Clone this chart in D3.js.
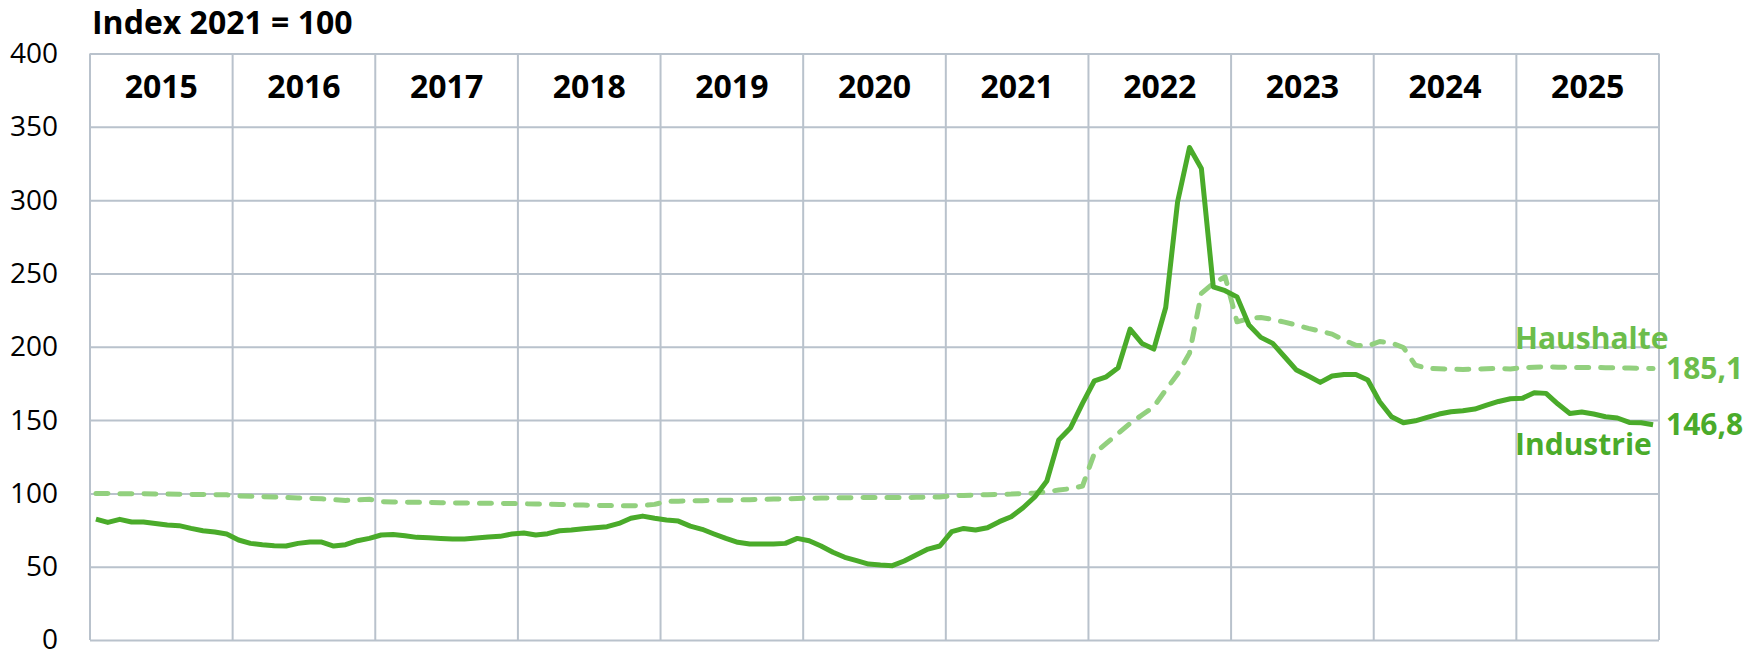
<!DOCTYPE html>
<html>
<head>
<meta charset="utf-8">
<script src="https://cdn.jsdelivr.net/npm/d3@7"></script>
<style>
  body { margin: 0; background: #fff; }
  svg { display: block; font-family: "Open Sans", sans-serif; }
</style>
</head>
<body>
<svg id="chart" width="1758" height="650"></svg>
<script>
// years shown in the header row
var years = [2015, 2016, 2017, 2018, 2019, 2020, 2021, 2022, 2023, 2024, 2025];

var yTicks = [0, 50, 100, 150, 200, 250, 300, 350, 400];

// monthly index values, Jan 2015 .. Dec 2025 (2021 = 100)
var industrie = [
    82.5, 80.2, 82.3, 80.5, 80.5, 79.5, 78.4, 78.0, 76.1, 74.5, 73.6, 72.3,
    68.2, 65.9, 65.0, 64.3, 64.1, 65.9, 66.8, 66.8, 64.1, 65.0, 67.7, 69.3,
    71.6, 72.0, 71.1, 70.0, 69.8, 69.3, 68.9, 68.9, 69.5, 70.2, 70.7, 72.3,
    73.0, 71.6, 72.5, 74.5, 75.0, 75.9, 76.6, 77.3, 79.5, 83.0, 84.5, 83.0,
    81.8, 81.1, 77.7, 75.5, 72.3, 69.3, 66.6, 65.5, 65.5, 65.5, 65.9, 69.3,
    67.7, 64.1, 59.8, 56.4, 54.1, 51.8, 51.1, 50.7, 53.9, 58.0, 62.0, 64.1,
    73.9, 76.1, 75.0, 76.6, 80.7, 84.1, 90.2, 97.7, 108.4, 136.4, 144.8, 161.4,
    176.8, 179.5, 185.7, 212.0, 202.3, 198.4, 226.8, 298.9, 335.9, 321.6, 240.9, 238.2,
    234.0, 214.8, 206.4, 202.3, 193.2, 184.1, 180.0, 175.7, 180.0, 181.1, 181.1, 177.3,
    162.5, 152.3, 148.2, 149.5, 151.8, 154.1, 155.7, 156.4, 157.5, 160.2, 162.7, 164.5,
    164.8, 168.6, 168.2, 160.9, 154.5, 155.5, 154.1, 152.3, 151.4, 148.4, 148.2, 146.8
];

var haushalte = [
    100.0, 100.0, 99.8, 99.8, 99.7, 99.6, 99.5, 99.4, 99.3, 99.2, 99.1, 99.0,
    98.2, 98.0, 97.8, 97.5, 97.2, 96.9, 96.6, 96.3, 95.7, 95.2, 95.5, 96.0,
    94.3, 94.1, 94.0, 93.9, 93.8, 93.6, 93.5, 93.4, 93.3, 93.3, 93.2, 93.1,
    92.9, 92.7, 92.6, 92.4, 92.2, 92.0, 91.8, 91.7, 91.6, 91.6, 91.7, 92.5,
    94.5, 94.7, 94.9, 95.0, 95.2, 95.3, 95.5, 95.7, 95.9, 96.1, 96.3, 96.5,
    96.7, 96.8, 96.9, 97.0, 97.1, 97.2, 97.2, 97.2, 97.2, 97.3, 97.4, 97.6,
    98.4, 98.6, 98.9, 99.1, 99.3, 99.5, 100.0, 100.2, 101.1, 102.3, 103.2, 105.0,
    127.3, 134.1, 140.9, 147.7, 153.4, 159.1, 170.5, 181.4, 195.5, 236.4, 243.2, 247.7,
    217.0, 219.3, 220.0, 218.6, 216.8, 214.8, 212.5, 210.7, 208.6, 204.5, 201.0, 200.5,
    203.6, 202.5, 199.5, 187.5, 185.2, 185.0, 184.8, 184.5, 184.8, 185.0, 185.2, 184.8,
    185.7, 186.1, 186.4, 186.1, 185.9, 185.9, 185.9, 185.7, 185.7, 185.5, 185.3, 185.1
];

var titleText = 'Index 2021 = 100';
var seriesLabels = ['Haushalte', 'Industrie'];
var endLabels = ['185,1', '146,8'];

var green = '#4aab2a';
var lightGreen = '#92d07e';
var labelLightGreen = '#6cbd4b';
var gridColor = '#b9c2cc';

// note: "top" is a reserved window property, so the plot edges get own names
var plotLeft = 90, plotRight = 1659, plotTop = 53.5, plotBottom = 640;

var svg = d3.select('#chart');

var x = d3.scaleLinear().domain([0, years.length * 12]).range([plotLeft, plotRight]);
var xYear = d3.scaleBand().domain(years).range([plotLeft, plotRight]);
var y = d3.scaleLinear().domain([0, 400]).range([plotBottom, plotTop]);

// horizontal grid + y labels through axis
var yAxis = svg.append('g')
    .attr('transform', 'translate(' + plotLeft + ',0)')
    .call(d3.axisLeft(y).tickValues(yTicks).tickSize(-(plotRight - plotLeft)).tickPadding(32));
yAxis.select('.domain').remove();
yAxis.selectAll('line').attr('stroke', gridColor).attr('stroke-width', 2);
yAxis.selectAll('text')
    .attr('fill', '#000')
    .style('font-size', '28px')
    .style('font-family', '"Open Sans", sans-serif');

// vertical year lines
svg.append('g').selectAll('line')
    .data(d3.range(years.length + 1))
    .enter().append('line')
    .attr('x1', function(d) { return x(d * 12); })
    .attr('x2', function(d) { return x(d * 12); })
    .attr('y1', plotTop)
    .attr('y2', plotBottom)
    .attr('stroke', gridColor)
    .attr('stroke-width', 2);

// year header labels
svg.append('g').selectAll('text')
    .data(years)
    .enter().append('text')
    .attr('x', function(d) { return xYear(d) + xYear.bandwidth() / 2; })
    .attr('y', 98)
    .attr('text-anchor', 'middle')
    .style('font-size', '32px')
    .style('font-weight', 'bold')
    .text(function(d) { return d; });

svg.append('text')
    .attr('x', 92)
    .attr('y', 34)
    .style('font-size', '32px')
    .style('font-weight', 'bold')
    .text(titleText);

var line = d3.line()
    .x(function(d, i) { return x(i + 0.5); })
    .y(function(d) { return y(d); });

svg.append('path')
    .datum(haushalte)
    .attr('d', line)
    .attr('fill', 'none')
    .attr('stroke', lightGreen)
    .attr('stroke-width', 5)
    .attr('stroke-linecap', 'round')
    .attr('stroke-linejoin', 'round')
    .attr('stroke-dasharray', '12,12');

svg.append('path')
    .datum(industrie)
    .attr('d', line)
    .attr('fill', 'none')
    .attr('stroke', green)
    .attr('stroke-width', 5)
    .attr('stroke-linejoin', 'round');

// labels at the right end
svg.append('text')
    .attr('x', 1515).attr('y', 349)
    .attr('fill', labelLightGreen)
    .style('font-size', '30px').style('font-weight', 'bold')
    .text(seriesLabels[0]);
svg.append('text')
    .attr('x', 1515).attr('y', 455)
    .attr('fill', green)
    .style('font-size', '30px').style('font-weight', 'bold')
    .text(seriesLabels[1]);
svg.append('text')
    .attr('x', 1666).attr('y', 379)
    .attr('fill', labelLightGreen)
    .style('font-size', '30px').style('font-weight', 'bold')
    .text(endLabels[0]);
svg.append('text')
    .attr('x', 1666).attr('y', 435)
    .attr('fill', green)
    .style('font-size', '30px').style('font-weight', 'bold')
    .text(endLabels[1]);
</script>
</body>
</html>
